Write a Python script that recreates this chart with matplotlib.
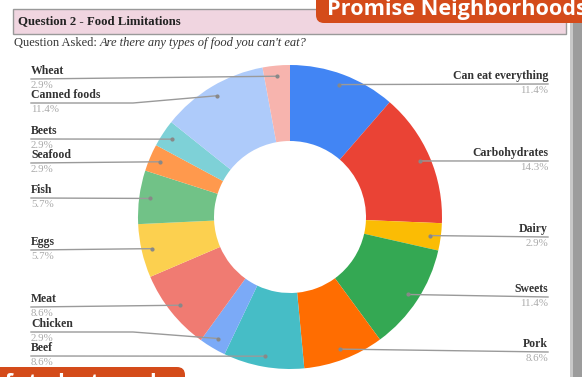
import matplotlib.pyplot as plt
from matplotlib.patches import Rectangle, FancyBboxPatch
import numpy as np

# Survey answers (percent of responses), clockwise from the top
categories = ["Can eat everything", "Carbohydrates", "Dairy", "Sweets", "Pork",
              "Beef", "Chicken", "Meat", "Eggs", "Fish", "Seafood", "Beets",
              "Canned foods", "Wheat"]
percents = [11.4, 14.3, 2.9, 11.4, 8.6, 8.6, 2.9, 8.6, 5.7, 5.7, 2.9, 2.9, 11.4, 2.9]
pct_labels = ["11.4%", "14.3%", "2.9%", "11.4%", "8.6%", "8.6%", "2.9%", "8.6%",
              "5.7%", "5.7%", "2.9%", "2.9%", "11.4%", "2.9%"]
colors = ["#4285f4", "#ea4335", "#fbbc04", "#34a853", "#ff6d01", "#46bdc6",
          "#7baaf7", "#f07b72", "#fcd04f", "#71c287", "#ff994d", "#7ed1d7",
          "#aecbfa", "#f7b4ae"]

# label line heights (pixels from top) and side for each slice
label_y = [84, 161, 237, 297, 352, 356, 332, 307, 250, 198, 163, 139, 103, 79]
label_side = ["R", "R", "R", "R", "R", "L", "L", "L", "L", "L", "L", "L", "L", "L"]

W, H = 582, 377
fig = plt.figure(figsize=(W / 100, H / 100), dpi=100)
ax = fig.add_axes([0, 0, 1, 1])

def py(y):
    # convert pixel-from-top to axes coords
    return H - y

cx, cy, R = 290, py(217), 152
wedges, _ = ax.pie(percents, colors=colors, startangle=90, counterclock=False,
                   radius=R, center=(cx, cy),
                   wedgeprops=dict(width=R * 0.5, linewidth=0))

ax.set_xlim(0, W)
ax.set_ylim(0, H)
ax.set_aspect("equal")
ax.axis("off")

serif = ["Liberation Serif", "DejaVu Serif"]
line_col = "#9a9a9a"

for w, name, pct, ly, side in zip(wedges, categories, pct_labels, label_y, label_side):
    mid = np.deg2rad((w.theta1 + w.theta2) / 2)
    dx = cx + 0.93 * R * np.cos(mid)
    dy = cy + 0.93 * R * np.sin(mid)
    ax.plot(dx, dy, "o", color="#888888", ms=2, zorder=5)
    yl = py(ly)
    if side == "R":
        ax.plot([dx, 548], [dy, yl], color=line_col, lw=1, zorder=4)
        ax.text(548, yl + 2, name, ha="right", va="bottom", fontsize=8.5,
                family=serif, fontweight="bold", color="#333333")
        ax.text(548, yl - 2, pct, ha="right", va="top", fontsize=7.8,
                family=serif, color="#aaaaaa")
    else:
        if abs(dy - yl) > 4:
            ax.plot([31, 133, dx], [yl, yl, dy], color=line_col, lw=1, zorder=4)
        else:
            ax.plot([31, dx], [yl, dy], color=line_col, lw=1, zorder=4)
        ax.text(31, yl + 2, name, ha="left", va="bottom", fontsize=8.5,
                family=serif, fontweight="bold", color="#333333")
        ax.text(31, yl - 2, pct, ha="left", va="top", fontsize=7.8,
                family=serif, color="#aaaaaa")

# header box
ax.add_patch(Rectangle((13, py(34)), 553, 25, facecolor="#f0d5e0",
                       edgecolor="#999999", lw=1, zorder=6))
ax.text(18, py(21), "Question 2 - Food Limitations", fontsize=9.2, family=serif,
        fontweight="bold", color="#222222", va="center", zorder=7)
t = ax.text(14, py(43), "Question Asked: ", fontsize=9, family=serif,
            color="#333333", va="center", zorder=7)
fig.canvas.draw()
bb = t.get_window_extent().transformed(ax.transData.inverted())
ax.text(bb.x1, py(43), "Are there any types of food you can't eat?", fontsize=9,
        family=serif, style="italic", color="#333333", va="center", zorder=7)

# right scroll bar
ax.add_patch(Rectangle((570, 0), 12, H - 22, facecolor="#9c9c9c", lw=0, zorder=6))
ax.add_patch(Rectangle((570, 0), 3, H - 22, facecolor="#c8c8c8", lw=0, zorder=6))

# orange banners
ax.add_patch(FancyBboxPatch((316, py(23)), 300, 40, boxstyle="round,pad=0,rounding_size=8",
                            facecolor="#d44b1a", edgecolor="none", zorder=8))
ax.text(327, py(15), "Promise Neighborhoods", fontsize=15.6, family=["Open Sans", "DejaVu Sans"],
        fontweight="bold", color="white", va="baseline", zorder=9)
ax.add_patch(FancyBboxPatch((-20, py(395)), 205, 28, boxstyle="round,pad=0,rounding_size=8",
                            facecolor="#d44b1a", edgecolor="none", zorder=8))
ax.text(-8, py(373), "of student needs", fontsize=15, family=["Open Sans", "DejaVu Sans"],
        fontweight="bold", color="white", va="top", zorder=9)

fig.savefig("out.png", dpi=100)
